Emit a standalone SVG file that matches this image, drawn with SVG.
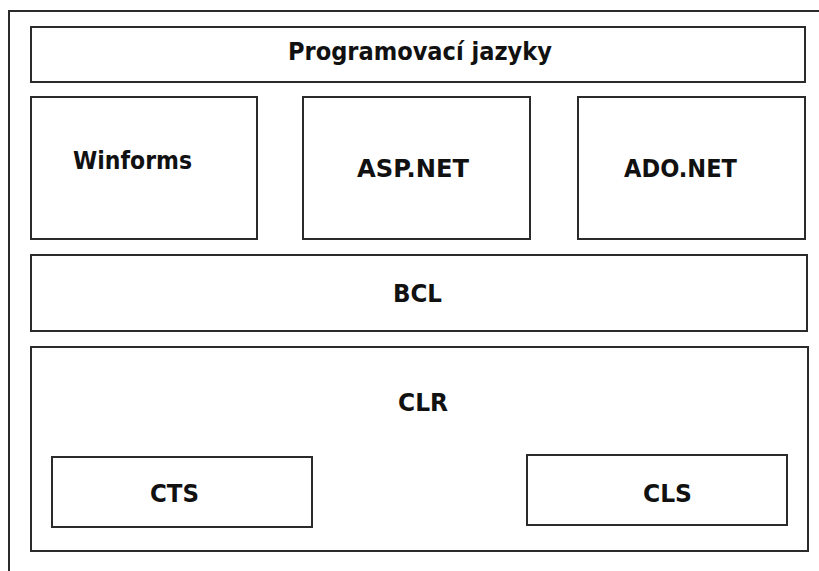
<svg xmlns="http://www.w3.org/2000/svg" width="819" height="571" viewBox="0 0 819 571">
  <style>
    .box { fill: #ffffff; stroke: #2b2b2b; stroke-width: 2; }
    .frame { fill: none; stroke: #2b2b2b; stroke-width: 2; }
    .lbl { font-family: "DejaVu Sans", Verdana, sans-serif; font-weight: bold; font-size: 24.5px; fill: #111111; }
  </style>
  <rect x="0" y="0" width="819" height="571" fill="#ffffff"/>
  <!-- outer frame, open to the right and bottom -->
  <path class="frame" d="M9,571 V11 H819"/>

  <g id="jazyky">
    <rect class="box" x="31" y="27" width="774" height="55"/>
    <text class="lbl" x="288" y="60" textLength="264" lengthAdjust="spacingAndGlyphs">Programovací jazyky</text>
  </g>
  <g id="winforms">
    <rect class="box" x="31" y="97" width="226" height="142"/>
    <text class="lbl" x="73" y="169" textLength="119" lengthAdjust="spacingAndGlyphs">Winforms</text>
  </g>
  <g id="aspnet">
    <rect class="box" x="303" y="97" width="227" height="142"/>
    <text class="lbl" x="357" y="177" textLength="112" lengthAdjust="spacingAndGlyphs">ASP.NET</text>
  </g>
  <g id="adonet">
    <rect class="box" x="578" y="97" width="227" height="142"/>
    <text class="lbl" x="624" y="177" textLength="113" lengthAdjust="spacingAndGlyphs">ADO.NET</text>
  </g>
  <g id="bcl">
    <rect class="box" x="31" y="255" width="776" height="76"/>
    <text class="lbl" x="393" y="302" textLength="49" lengthAdjust="spacingAndGlyphs">BCL</text>
  </g>
  <g id="clr">
    <rect class="box" x="31" y="347" width="777" height="204"/>
    <text class="lbl" x="398" y="411" textLength="50" lengthAdjust="spacingAndGlyphs">CLR</text>
  </g>
  <g id="cts">
    <rect class="box" x="52" y="457" width="260" height="70"/>
    <text class="lbl" x="150" y="502" textLength="49" lengthAdjust="spacingAndGlyphs">CTS</text>
  </g>
  <g id="cls">
    <rect class="box" x="527" y="455" width="260" height="70"/>
    <text class="lbl" x="643" y="502" textLength="49" lengthAdjust="spacingAndGlyphs">CLS</text>
  </g>
  <g id="connectors"/>
</svg>
